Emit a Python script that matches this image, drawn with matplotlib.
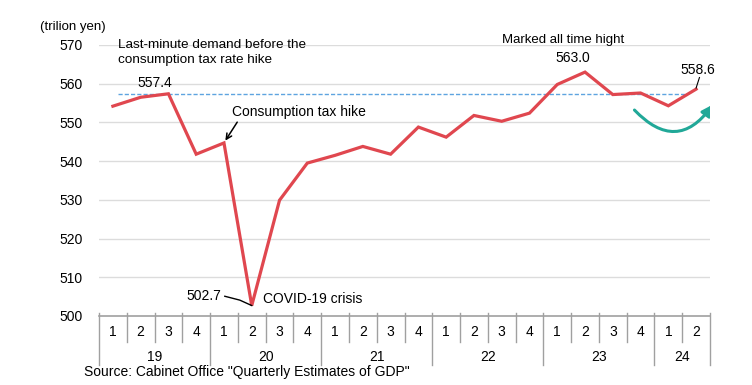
import matplotlib.pyplot as plt
from matplotlib.patches import FancyArrowPatch
import numpy as np

plt.rcParams["font.family"] = ["Liberation Sans", "DejaVu Sans"]

# Real GDP, quarterly (trillion yen)
years = ["19", "20", "21", "22", "23", "24"]
quarters = ["1", "2", "3", "4"] * 5 + ["1", "2"]
gdp = [554.2, 556.5, 557.4, 541.8, 544.7, 502.7, 529.9, 539.5,
       541.5, 543.8, 541.8, 548.8, 546.2, 551.8, 550.3, 552.4,
       559.8, 563.0, 557.2, 557.6, 554.3, 558.6]
pre_hike_level = 557.4

LINE_RED = "#e0474f"
TEAL = "#21a898"
GRID = "#dcdcdc"
AXIS_GRAY = "#a0a0a0"

fig = plt.figure(figsize=(7.52, 3.85), dpi=100)
ax = fig.add_axes([99 / 752, 69 / 385, 611 / 752, 271 / 385])

x = np.arange(len(gdp))
ax.plot(x, gdp, color=LINE_RED, lw=2.3, solid_joinstyle="miter", zorder=3)
ax.plot([0.2, 20.6], [pre_hike_level] * 2, ls=(0, (3, 1.5)), color="#5ea4e0", lw=1, zorder=2)

ax.set_xlim(-0.5, len(gdp) - 0.5)
ax.set_ylim(500, 570)
ax.set_yticks(range(500, 571, 10))
ax.set_xticks([])
ax.tick_params(axis="y", length=0, pad=12, labelsize=10)
for s in ["left", "right", "top"]:
    ax.spines[s].set_visible(False)
ax.spines["bottom"].set_color(AXIS_GRAY)
ax.spines["bottom"].set_linewidth(1.2)
for v in range(510, 571, 10):
    ax.axhline(v, color=GRID, lw=1, zorder=1)

# category axis: quarter boxes and year groups
tr = ax.get_xaxis_transform()
for i in range(len(gdp) + 1):
    b = i - 0.5
    ybot = -0.181 if (i % 4 == 0 or i == len(gdp)) else -0.096
    ax.plot([b, b], [0.011, ybot], color=AXIS_GRAY, lw=1, transform=tr, clip_on=False)
for i, q in enumerate(quarters):
    ax.text(i, -0.059, q, transform=tr, ha="center", va="center", fontsize=10)
for k, yr in enumerate(years):
    start = 4 * k
    end = min(4 * k + 3, len(gdp) - 1)
    ax.text((start + end) / 2, -0.151, yr, transform=tr, ha="center", va="center", fontsize=10)

# annotations
fig.text(40 / 752, 1 - 27 / 385, "(trilion yen)", fontsize=9.5, ha="left", va="center")
ax.text(0.2, 571.5, "Last-minute demand before the\nconsumption tax rate hike",
        fontsize=9.7, ha="left", va="top", linespacing=1.35)
ax.text(1.5, 560.2, "557.4", fontsize=10, ha="center", va="center")
ax.annotate("Consumption tax hike", xy=(4.05, 545.3), xytext=(4.3, 552.6),
            fontsize=10, ha="left", va="center",
            arrowprops=dict(arrowstyle="->", color="black", lw=1.1,
                            shrinkA=0, shrinkB=0, relpos=(0.05, 0.0)))
ax.text(16.2, 571.3, "Marked all time hight", fontsize=9.5, ha="center", va="center")
ax.text(16.55, 566.6, "563.0", fontsize=10, ha="center", va="center")
ax.text(21.05, 563.5, "558.6", fontsize=10, ha="center", va="center")
ax.plot([21.12, 21.0], [561.6, 558.9], color="black", lw=0.8, zorder=4)
ax.text(3.9, 505.1, "502.7", fontsize=10, ha="right", va="center")
ax.plot([4.03, 4.57, 5.0], [505.1, 504.1, 502.7], color="black", lw=1, zorder=4)
ax.text(5.4, 504.4, "COVID-19 crisis", fontsize=10, ha="left", va="center")

# teal "rebound" arrow
rebound = FancyArrowPatch((18.78, 553.2), (21.6, 554.6),
                          connectionstyle="arc3,rad=0.6", arrowstyle="-|>",
                          mutation_scale=16, color=TEAL, lw=2.2,
                          shrinkA=0, shrinkB=0, zorder=4)
ax.add_patch(rebound)

fig.text(84 / 752, 1 - 372 / 385, 'Source: Cabinet Office "Quarterly Estimates of GDP"',
         fontsize=10, ha="left", va="center")

fig.savefig("out.png", dpi=100)
